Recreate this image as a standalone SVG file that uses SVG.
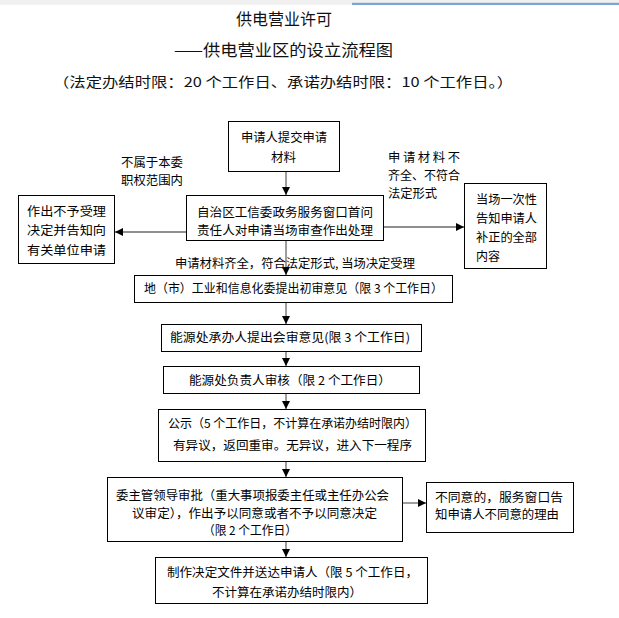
<svg xmlns="http://www.w3.org/2000/svg" width="619" height="618" viewBox="0 0 619 618">
<defs>
<style>
.box{fill:#fff;stroke:#000;stroke-width:1}
.t{font-family:"Noto Sans CJK SC","Noto Sans",sans-serif;font-size:12.3px;fill:#000}
.title{font-family:"Noto Sans CJK SC","Noto Sans",sans-serif;font-size:16px;fill:#111}
.sub{font-family:"Noto Sans CJK SC","Noto Sans",sans-serif;font-size:13.5px;fill:#111}
.c{stroke:#6a6a6a;stroke-width:1.3;fill:none}
</style>
<marker id="ah" markerUnits="userSpaceOnUse" markerWidth="8" markerHeight="8" refX="8" refY="4" orient="auto">
<path d="M0,0 L8,4 L0,8 z" fill="#000"/>
</marker>
</defs>
<rect x="0" y="0" width="619" height="618" fill="#fff"/>
<rect x="0" y="0" width="619" height="4.7" fill="#f0f0f0"/>
<rect x="352" y="2.8" width="267" height="2.2" fill="#7ba3d4"/>

<g id="title">
<text class="title" x="236" y="25" textLength="96" lengthAdjust="spacingAndGlyphs">供电营业许可</text>
<text class="title" x="174" y="56" textLength="219" lengthAdjust="spacingAndGlyphs">——供电营业区的设立流程图</text>
<text class="sub" x="53" y="87" textLength="460" lengthAdjust="spacingAndGlyphs">（法定办结时限：20 个工作日、承诺办结时限：10 个工作日。）</text>
</g>

<g id="connectors">
<line class="c" x1="286" y1="171" x2="286" y2="195" marker-end="url(#ah)"/>
<line class="c" x1="286" y1="241" x2="286" y2="275" marker-end="url(#ah)"/>
<line class="c" x1="286" y1="302" x2="286" y2="324" marker-end="url(#ah)"/>
<line class="c" x1="286" y1="351" x2="286" y2="366" marker-end="url(#ah)"/>
<line class="c" x1="286" y1="393" x2="286" y2="409" marker-end="url(#ah)"/>
<line class="c" x1="286" y1="461" x2="286" y2="477" marker-end="url(#ah)"/>
<line class="c" x1="286" y1="541" x2="286" y2="557" marker-end="url(#ah)"/>
<line class="c" x1="186" y1="232" x2="115" y2="232" marker-end="url(#ah)"/>
<line class="c" x1="383" y1="227" x2="464" y2="227" marker-end="url(#ah)"/>
<line class="c" x1="402" y1="503" x2="426" y2="503" marker-end="url(#ah)"/>
</g>

<g id="label-reject">
<text class="t" x="121" y="166.5" textLength="62" lengthAdjust="spacingAndGlyphs">不属于本委</text>
<text class="t" x="121" y="184.5" textLength="62" lengthAdjust="spacingAndGlyphs">职权范围内</text>
</g>
<g id="label-incomplete">
<text class="t" x="388" y="161.5" textLength="72" lengthAdjust="spacing">申请材料不</text>
<text class="t" x="388" y="179.5" textLength="72" lengthAdjust="spacingAndGlyphs">齐全、不符合</text>
<text class="t" x="388" y="197.5" textLength="49" lengthAdjust="spacingAndGlyphs">法定形式</text>
</g>
<g id="label-accept">
<text class="t" x="175" y="268" textLength="240" lengthAdjust="spacingAndGlyphs">申请材料齐全，符合法定形式, 当场决定受理</text>
</g>

<g id="n1">
<rect class="box" x="228.5" y="121.5" width="111" height="50"/>
<text class="t" x="241" y="141.5" textLength="86" lengthAdjust="spacingAndGlyphs">申请人提交申请</text>
<text class="t" x="271" y="161.5" textLength="25" lengthAdjust="spacingAndGlyphs">材料</text>
</g>
<g id="n2">
<rect class="box" x="186.5" y="195.5" width="197" height="45"/>
<text class="t" x="197" y="216.5" textLength="176" lengthAdjust="spacingAndGlyphs">自治区工信委政务服务窗口首问</text>
<text class="t" x="197" y="234.5" textLength="176" lengthAdjust="spacingAndGlyphs">责任人对申请当场审查作出处理</text>
</g>
<g id="n-left">
<rect class="box" x="18.5" y="195.5" width="96" height="68"/>
<text class="t" x="27" y="215.5" textLength="79" lengthAdjust="spacingAndGlyphs">作出不予受理</text>
<text class="t" x="27" y="234.5" textLength="79" lengthAdjust="spacingAndGlyphs">决定并告知向</text>
<text class="t" x="27" y="254.5" textLength="79" lengthAdjust="spacingAndGlyphs">有关单位申请</text>
</g>
<g id="n-right">
<rect class="box" x="464.5" y="183.5" width="82" height="85"/>
<text class="t" x="476" y="203.5" textLength="61" lengthAdjust="spacingAndGlyphs">当场一次性</text>
<text class="t" x="476" y="222.5" textLength="61" lengthAdjust="spacingAndGlyphs">告知申请人</text>
<text class="t" x="476" y="241.5" textLength="61" lengthAdjust="spacingAndGlyphs">补正的全部</text>
<text class="t" x="476" y="260.5" textLength="24" lengthAdjust="spacingAndGlyphs">内容</text>
</g>
<g id="n3">
<rect class="box" x="134.5" y="275.5" width="318" height="27"/>
<text class="t" x="144" y="293" textLength="299" lengthAdjust="spacingAndGlyphs">地（市）工业和信息化委提出初审意见（限 3 个工作日）</text>
</g>
<g id="n4">
<rect class="box" x="161.5" y="324.5" width="260" height="27"/>
<text class="t" x="170" y="342" textLength="240" lengthAdjust="spacingAndGlyphs">能源处承办人提出会审意见(限 3 个工作日)</text>
</g>
<g id="n5">
<rect class="box" x="163.5" y="366.5" width="256" height="27"/>
<text class="t" x="189" y="384.5" textLength="202" lengthAdjust="spacingAndGlyphs">能源处负责人审核（限 2 个工作日）</text>
</g>
<g id="n6">
<rect class="box" x="158.5" y="409.5" width="267" height="52"/>
<text class="t" x="168" y="427.5" textLength="249" lengthAdjust="spacingAndGlyphs">公示（5 个工作日，不计算在承诺办结时限内）</text>
<text class="t" x="173" y="449.5" textLength="239" lengthAdjust="spacingAndGlyphs">有异议，返回重审。无异议，进入下一程序</text>
</g>
<g id="n7">
<rect class="box" x="107.5" y="477.5" width="295" height="64"/>
<text class="t" x="116" y="499.5" textLength="273" lengthAdjust="spacingAndGlyphs">委主管领导审批（重大事项报委主任或主任办公会</text>
<text class="t" x="132" y="517.5" textLength="245" lengthAdjust="spacingAndGlyphs">议审定），作出予以同意或者不予以同意决定</text>
<text class="t" x="203" y="534.5" textLength="94" lengthAdjust="spacingAndGlyphs">（限 2 个工作日）</text>
</g>
<g id="n8">
<rect class="box" x="426.5" y="482.5" width="147" height="50"/>
<text class="t" x="435" y="501.5" textLength="128" lengthAdjust="spacingAndGlyphs">不同意的，服务窗口告</text>
<text class="t" x="435" y="518.5" textLength="124" lengthAdjust="spacingAndGlyphs">知申请人不同意的理由</text>
</g>
<g id="n9">
<rect class="box" x="155.5" y="557.5" width="272" height="46"/>
<text class="t" x="167" y="576.5" textLength="251" lengthAdjust="spacingAndGlyphs">制作决定文件并送达申请人（限 5 个工作日，</text>
<text class="t" x="212" y="596.5" textLength="150" lengthAdjust="spacingAndGlyphs">不计算在承诺办结时限内）</text>
</g>
</svg>
